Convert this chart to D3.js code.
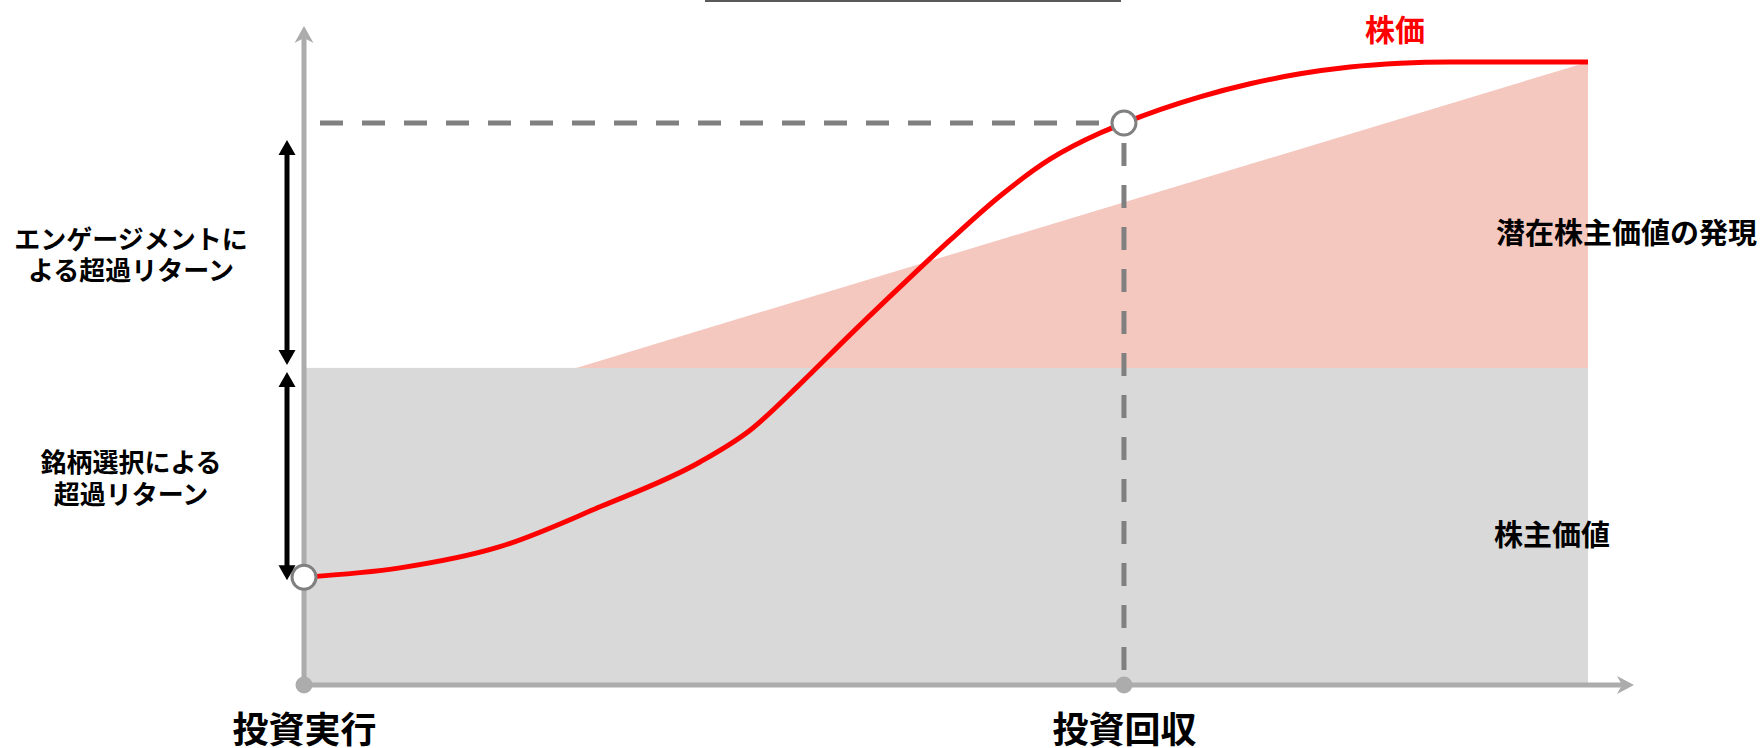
<!DOCTYPE html>
<html>
<head>
<meta charset="utf-8">
<script src="https://cdn.jsdelivr.net/npm/d3@7"></script>
<style>
  body { margin: 0; background: #fff; }
  svg { display: block; }
  text { font-family: "Noto Sans CJK JP", "Noto Sans", sans-serif; font-weight: 700; }
</style>
</head>
<body>
<svg id="chart" width="1764" height="748"></svg>
<script>
// Time runs 0 (investment) .. 100 (end of horizon); value runs 0 .. 100.
const priceX = [0, 7.48, 15.26, 23.05, 30.84, 34.74, 38.63, 42.52, 46.42, 50.31, 54.21, 58.10, 62.0, 63.86, 69.78, 73.68, 77.57, 81.46, 85.36, 89.25, 100];
const priceY = [17.3, 18.8, 22.2, 28.6, 35.8, 40.9, 48.3, 56.2, 63.9, 71.4, 78.5, 84.4, 88.6, 90.2, 94.4, 96.5, 98.1, 99.2, 99.8, 100, 100];

const shareholderValue = 50.9;                 // grey band height
const potentialX = [21.2, 100, 100];           // latent value wedge
const potentialY = [50.9, 100, 50.9];

const milestoneX = [0, 63.86];
const milestoneLabels = ["投資実行", "投資回収"];
const startPrice = 17.3;
const exitPrice = 90.2;

const engagementLabel = ["エンゲージメントに", "よる超過リターン"];
const selectionLabel = ["銘柄選択による", "超過リターン"];
const priceLabel = "株価";
const latentLabel = "潜在株主価値の発現";
const valueLabel = "株主価値";

const svg = d3.select("#chart");
const x = d3.scaleLinear().domain([0, 100]).range([304, 1588]);
const y = d3.scaleLinear().domain([0, 100]).range([685, 62]);

const AXIS = "#acacac", DASH = "#808080";

// thin rule along the top edge
svg.append("line").attr("x1", 705).attr("x2", 1121).attr("y1", 1).attr("y2", 1)
  .attr("stroke", "#5a5a5a").attr("stroke-width", 2);

// shareholder value band
svg.append("rect")
  .attr("x", x(0)).attr("y", y(shareholderValue))
  .attr("width", x(100) - x(0)).attr("height", y(0) - y(shareholderValue))
  .attr("fill", "#d9d9d9");

// latent shareholder value wedge
const wedge = potentialX.map((v, i) => [x(v), y(potentialY[i])]);
svg.append("path")
  .attr("d", d3.line()(wedge) + "Z")
  .attr("fill", "#f4c7bf");

// axes
svg.append("line").attr("x1", x(0)).attr("x2", x(0)).attr("y1", y(0)).attr("y2", 34)
  .attr("stroke", AXIS).attr("stroke-width", 5);
svg.append("path")
  .attr("d", `M${x(0)},26 L${x(0) + 9.5},43 L${x(0)},38 L${x(0) - 9.5},43 Z`)
  .attr("fill", AXIS);
svg.append("line").attr("x1", x(0)).attr("x2", 1626).attr("y1", y(0)).attr("y2", y(0))
  .attr("stroke", AXIS).attr("stroke-width", 5);
svg.append("path")
  .attr("d", `M1634,${y(0)} L1617,${y(0) - 9} L1622,${y(0)} L1617,${y(0) + 9} Z`)
  .attr("fill", AXIS);

// milestone labels on the time axis
const xAxis = d3.axisBottom(x)
  .tickValues(milestoneX)
  .tickSize(0)
  .tickFormat((d, i) => milestoneLabels[i]);
const gx = svg.append("g").attr("transform", `translate(0,${y(0)})`).call(xAxis);
gx.select(".domain").remove();
gx.selectAll("text")
  .attr("y", 42).attr("dy", null)
  .attr("dominant-baseline", "central")
  .attr("fill", "#000")
  .style("font-size", "36px")
  .style("font-family", "'Noto Sans CJK JP', sans-serif")
  .style("font-weight", 700);

// exit guide lines
const exitX = milestoneX[1];
svg.append("line")
  .attr("x1", x(0) + 16).attr("x2", x(exitX))
  .attr("y1", y(exitPrice)).attr("y2", y(exitPrice))
  .attr("stroke", DASH).attr("stroke-width", 5).attr("stroke-dasharray", "23 19");
svg.append("line")
  .attr("x1", x(exitX)).attr("x2", x(exitX))
  .attr("y1", y(exitPrice) + 20).attr("y2", y(0) - 8)
  .attr("stroke", DASH).attr("stroke-width", 5).attr("stroke-dasharray", "23 19");

// stock price curve
const pricePts = priceX.map((v, i) => [v, priceY[i]]);
svg.append("path")
  .datum(pricePts)
  .attr("d", d3.line().x(d => x(d[0])).y(d => y(d[1])).curve(d3.curveMonotoneX))
  .attr("fill", "none").attr("stroke", "#ff0000").attr("stroke-width", 5);

// dots on the time axis
svg.selectAll(".tick-dot").data(milestoneX).join("circle")
  .attr("cx", d => x(d)).attr("cy", y(0)).attr("r", 8.5).attr("fill", AXIS);

// open markers at entry and exit price
svg.selectAll(".price-dot").data([[0, startPrice], [exitX, exitPrice]]).join("circle")
  .attr("cx", d => x(d[0])).attr("cy", d => y(d[1])).attr("r", 12)
  .attr("fill", "#fff").attr("stroke", DASH).attr("stroke-width", 3);

// double-headed arrows
function doubleArrow(ax, yTop, yBot) {
  const hl = 15, hw = 8.5;
  svg.append("line").attr("x1", ax).attr("x2", ax).attr("y1", yTop + hl - 1).attr("y2", yBot - hl + 1)
    .attr("stroke", "#000").attr("stroke-width", 5);
  svg.append("path").attr("d", `M${ax},${yTop} L${ax + hw},${yTop + hl} L${ax - hw},${yTop + hl} Z`).attr("fill", "#000");
  svg.append("path").attr("d", `M${ax},${yBot} L${ax + hw},${yBot - hl} L${ax - hw},${yBot - hl} Z`).attr("fill", "#000");
}
const arrowX = 287;
const upperTop = y(exitPrice) + 17, upperBot = y(shareholderValue) - 3;
const lowerTop = y(shareholderValue) + 4, lowerBot = y(startPrice) + 3;
doubleArrow(arrowX, upperTop, upperBot);
doubleArrow(arrowX, lowerTop, lowerBot);

// two-line labels beside the arrows
function twoLine(lines, cx, cy, size) {
  const t = svg.append("text")
    .attr("x", cx).attr("y", cy - 15.75)
    .attr("text-anchor", "middle").attr("dominant-baseline", "central")
    .style("font-size", size + "px").attr("fill", "#000");
  lines.forEach((s, i) => {
    t.append("tspan").attr("x", cx).attr("dy", i === 0 ? 0 : 31.5).text(s);
  });
}
twoLine(engagementLabel, 131, (upperTop + upperBot) / 2, 26);
twoLine(selectionLabel, 131, (lowerTop + lowerBot) / 2, 26);

// series / area labels
svg.append("text").attr("x", 1395).attr("y", 27.5)
  .attr("text-anchor", "middle").attr("dominant-baseline", "central")
  .style("font-size", "30px").attr("fill", "#ff0000").text(priceLabel);
svg.append("text").attr("x", 1496).attr("y", 231)
  .attr("dominant-baseline", "central")
  .style("font-size", "29px").attr("fill", "#000").text(latentLabel);
svg.append("text").attr("x", 1494).attr("y", 533)
  .attr("dominant-baseline", "central")
  .style("font-size", "29px").attr("fill", "#000").text(valueLabel);
</script>
</body>
</html>
